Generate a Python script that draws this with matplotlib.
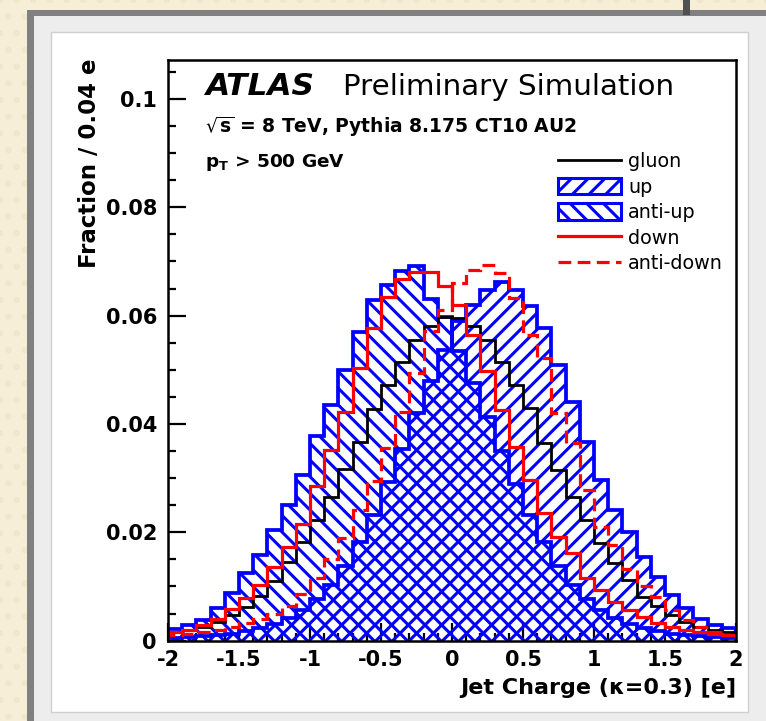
import numpy as np
import matplotlib
matplotlib.use("Agg")
import matplotlib.pyplot as plt
from matplotlib.patches import Rectangle, Patch
from matplotlib.lines import Line2D
from matplotlib.ticker import MultipleLocator, FixedLocator

# ---------------- data (fraction per bin, 40 bins from -2 to 2) ----------------
bin_lo, bin_hi, n_bins = -2.0, 2.0, 40

gluon = [0.0015, 0.0020, 0.0026, 0.0035, 0.0048, 0.0062, 0.0082, 0.0110, 0.0145, 0.0182,
         0.0222, 0.0266, 0.0316, 0.0366, 0.0428, 0.0472, 0.0515, 0.0555, 0.0580, 0.0598,
         0.0595, 0.0580, 0.0555, 0.0515, 0.0472, 0.0429, 0.0364, 0.0315, 0.0266, 0.0223,
         0.0180, 0.0143, 0.0112, 0.0081, 0.0063, 0.0047, 0.0035, 0.0025, 0.0020, 0.0015]

up = [0.0005, 0.0006, 0.0008, 0.0010, 0.0013, 0.0017, 0.0023, 0.0031, 0.0042, 0.0057,
      0.0077, 0.0102, 0.0137, 0.0182, 0.0232, 0.0292, 0.0354, 0.0420, 0.0480, 0.0537,
      0.0590, 0.0620, 0.0647, 0.0663, 0.0647, 0.0617, 0.0577, 0.0509, 0.0441, 0.0367,
      0.0297, 0.0241, 0.0200, 0.0155, 0.0118, 0.0085, 0.0060, 0.0040, 0.0029, 0.0023]

anti_up = [0.0022, 0.0028, 0.0038, 0.0060, 0.0088, 0.0125, 0.0158, 0.0205, 0.0250, 0.0305,
           0.0377, 0.0435, 0.0500, 0.0570, 0.0629, 0.0657, 0.0683, 0.0692, 0.0630, 0.0597,
           0.0535, 0.0475, 0.0412, 0.0350, 0.0290, 0.0232, 0.0182, 0.0137, 0.0102, 0.0076,
           0.0056, 0.0041, 0.0031, 0.0023, 0.0017, 0.0013, 0.0010, 0.0008, 0.0006, 0.0005]

down = [0.0015, 0.0020, 0.0028, 0.0040, 0.0058, 0.0078, 0.0102, 0.0135, 0.0172, 0.0215,
        0.0285, 0.0352, 0.0423, 0.0503, 0.0577, 0.0635, 0.0668, 0.0680, 0.0680, 0.0655,
        0.0620, 0.0564, 0.0497, 0.0426, 0.0358, 0.0297, 0.0235, 0.0192, 0.0161, 0.0115,
        0.0094, 0.0072, 0.0056, 0.0044, 0.0032, 0.0026, 0.0020, 0.0015, 0.0012, 0.0010]

anti_down = [0.0010, 0.0012, 0.0015, 0.0020, 0.0026, 0.0032, 0.0040, 0.0050, 0.0064, 0.0086,
             0.0115, 0.0150, 0.0189, 0.0241, 0.0294, 0.0355, 0.0423, 0.0495, 0.0572, 0.0610,
             0.0660, 0.0684, 0.0694, 0.0678, 0.0632, 0.0564, 0.0521, 0.0420, 0.0364, 0.0278,
             0.0210, 0.0176, 0.0133, 0.0100, 0.0081, 0.0056, 0.0038, 0.0026, 0.0016, 0.0010]

labels = ["gluon", "up", "anti-up", "down", "anti-down"]
x_ticks = [-2, -1.5, -1, -0.5, 0, 0.5, 1, 1.5, 2]
x_tick_labels = ["-2", "-1.5", "-1", "-0.5", "0", "0.5", "1", "1.5", "2"]
y_ticks = [0, 0.02, 0.04, 0.06, 0.08, 0.1]
y_tick_labels = ["0", "0.02", "0.04", "0.06", "0.08", "0.1"]
y_max = 0.1072

# ---------------- style ----------------
plt.rcParams['font.family'] = ['DejaVu Sans']
plt.rcParams['axes.unicode_minus'] = False
plt.rcParams['hatch.linewidth'] = 2.2
plt.rcParams['mathtext.fontset'] = 'dejavusans'

W, H = 766, 721
fig = plt.figure(figsize=(W / 100, H / 100), dpi=100)
fig.patch.set_facecolor('#f6eed6')


def rect(x0, y0, x1, y1, **kw):
    r = Rectangle((x0 / W, 1 - y1 / H), (x1 - x0) / W, (y1 - y0) / H,
                  transform=fig.transFigure, **kw)
    fig.patches.append(r)
    return r


# paper texture + slide / window frame (behind the axes)
rect(0, 0, W, H, facecolor='#f6eed6', edgecolor='#f0e6cb', hatch='.', linewidth=0, zorder=-6)
rect(27, 10, 766, 721, facecolor='#808080', edgecolor='none', zorder=-5)
rect(34, 16, 766, 721, facecolor='#ededed', edgecolor='none', zorder=-4)
rect(51, 32, 748, 712, facecolor='white', edgecolor='#cfcfcf', linewidth=1.0, zorder=-3)
rect(683, 0, 690, 15, facecolor='#505050', edgecolor='none', zorder=-2)

# axes: x from 168 to 736 px, y from 60 to 640.6 px
ax = fig.add_axes([168 / W, 1 - 640.6 / H, (736 - 168) / W, (640.6 - 60) / H])
ax.set_zorder(1)
ax.set_facecolor('white')

edges = np.linspace(bin_lo, bin_hi, n_bins + 1)
blue, red = '#0000ff', '#ff0000'

ax.stairs(anti_up, edges, fill=True, facecolor='none', edgecolor=blue, hatch='\\\\', linewidth=0, zorder=2)
ax.stairs(up, edges, fill=True, facecolor='none', edgecolor=blue, hatch='//', linewidth=0, zorder=2)
ax.stairs(anti_up, edges, baseline=0, color=blue, linewidth=2.7, zorder=3)
ax.stairs(up, edges, baseline=0, color=blue, linewidth=2.7, zorder=3)
ax.stairs(gluon, edges, baseline=0, color='black', linewidth=2.0, zorder=4)
ax.stairs(down, edges, baseline=0, color=red, linewidth=2.3, zorder=5)
ax.stairs(anti_down, edges, baseline=0, color=red, linewidth=2.3, linestyle=(0, (4, 2)), zorder=5)

ax.set_xlim(bin_lo, bin_hi)
ax.set_ylim(0, y_max)

ax.xaxis.set_major_locator(FixedLocator(x_ticks))
ax.set_xticklabels(x_tick_labels)
ax.xaxis.set_minor_locator(MultipleLocator(0.1))
ax.yaxis.set_major_locator(FixedLocator(y_ticks))
ax.set_yticklabels(y_tick_labels)
ax.yaxis.set_minor_locator(MultipleLocator(0.005))

ax.tick_params(which='both', direction='in', top=False, right=False, width=1.6, color='black')
ax.tick_params(which='major', length=13)
ax.tick_params(which='minor', length=6)
ax.tick_params(axis='x', which='major', pad=7, labelsize=15)
ax.tick_params(axis='y', which='major', pad=8, labelsize=15)
for lab in ax.get_xticklabels() + ax.get_yticklabels():
    lab.set_fontweight('bold')
for sp in ax.spines.values():
    sp.set_linewidth(1.8)
    sp.set_zorder(6)

# axis titles
fig.text(736 / W, 1 - 688 / H, "Jet Charge (\u03ba=0.3) [e]", ha='right', va='center',
         fontsize=16, fontweight='bold')
fig.text(89 / W, 1 - 58 / H, "Fraction / 0.04 e", ha='center', va='top', rotation=90,
         fontsize=16.5, fontweight='bold')

# annotations
tx = (205 - 168) / 568
ax.text(tx, (640.6 - 95) / 580.6, "ATLAS", transform=ax.transAxes, fontsize=22.5,
        fontweight='bold', fontstyle='italic', va='baseline')
ax.text((343 - 168) / 568, (640.6 - 95) / 580.6, "Preliminary Simulation", transform=ax.transAxes,
        fontsize=21.2, va='baseline')
ax.text(tx, (640.6 - 133) / 580.6, r"$\sqrt{\mathbf{s}}$ = 8 TeV, Pythia 8.175 CT10 AU2",
        transform=ax.transAxes, fontsize=13.5, fontweight='bold', va='baseline')
ax.text(tx, (640.6 - 167) / 580.6, r"$\mathbf{p_{T}}$ > 500 GeV",
        transform=ax.transAxes, fontsize=13.3, fontweight='bold', va='baseline')

# legend
handles = [
    Line2D([], [], color='black', linewidth=2.0),
    Patch(facecolor='none', edgecolor=blue, hatch='//', linewidth=2.2),
    Patch(facecolor='none', edgecolor=blue, hatch='\\\\', linewidth=2.2),
    Line2D([], [], color=red, linewidth=2.3),
    Line2D([], [], color=red, linewidth=2.3, linestyle=(0, (4, 2))),
]
ax.legend(handles, labels, loc='upper left', bbox_to_anchor=((558 - 168) / 568, (640.6 - 152) / 580.6),
          frameon=False, fontsize=13.8, handlelength=3.3, handleheight=0.95, handletextpad=0.36,
          labelspacing=0.34, borderpad=0, borderaxespad=0)

fig.savefig("out.png", dpi=100, facecolor=fig.get_facecolor())
